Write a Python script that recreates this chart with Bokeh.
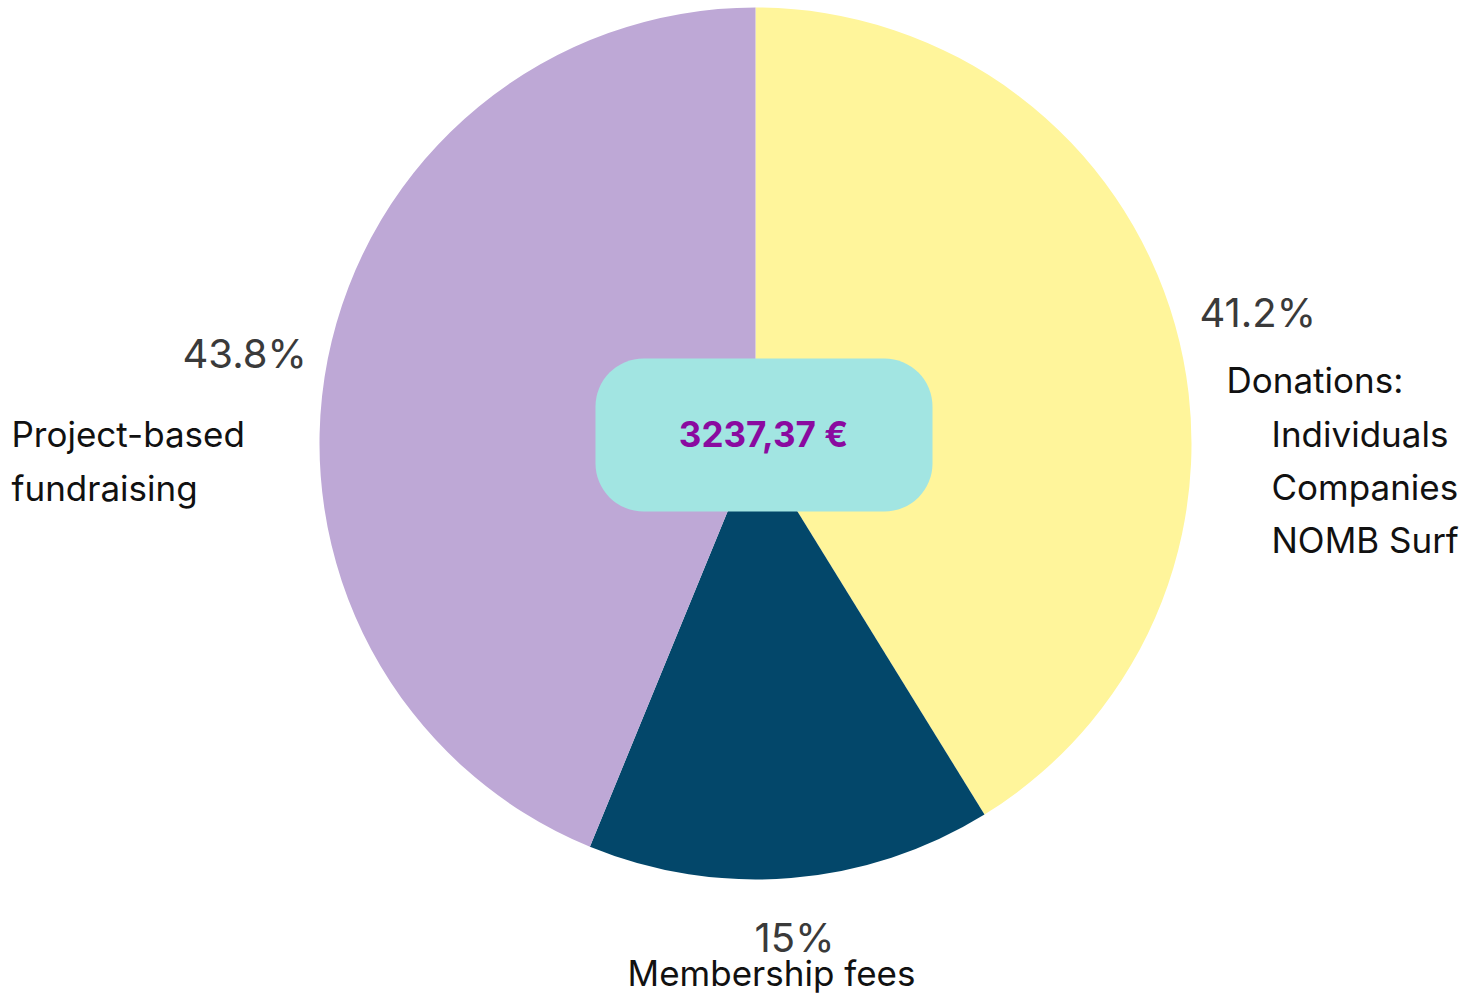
from bokeh.plotting import figure
from bokeh.models import ColumnDataSource, Range1d
from bokeh.core.properties import value
from bokeh.embed import file_html
from bokeh.resources import INLINE
import math

categories = ["Donations", "Membership fees", "Project-based fundraising"]
shares = [41.2, 15.0, 43.8]
pct_labels = ["41.2%", "15%", "43.8%"]
colors = ["#fff59b", "#03476a", "#bea8d6"]
total_label = "3237,37 €"

W, H = 1483, 995
FONT = "Inter"

def px(x):
    return x

def py(y):
    return H - y

p = figure(width=W, height=H, output_backend="svg", toolbar_location=None,
           x_range=Range1d(0, W), y_range=Range1d(0, H), min_border=0)
p.axis.visible = False
p.grid.visible = False
p.outline_line_color = None
p.background_fill_color = "white"

# wedges, clockwise from 12 o'clock
starts, ends = [], []
acc = 0.0
for s in shares:
    a0 = math.pi / 2 - acc / 100 * 2 * math.pi
    acc += s
    a1 = math.pi / 2 - acc / 100 * 2 * math.pi
    starts.append(a0)
    ends.append(a1)

src = ColumnDataSource(dict(cat=categories, start=starts, end=ends, color=colors))
p.wedge(x=px(755), y=py(443), radius=436, start_angle="start", end_angle="end",
        direction="clock", fill_color="color", line_color=None, source=src)

# center box
p.rect(x=px(763.5), y=py(434.5), width=337, height=153, fill_color="#a2e5e2",
       line_color=None, border_radius=48)
p.text(x=[px(763)], y=[py(433)], text=[total_label], text_font=value(FONT),
       text_font_size="35px", text_font_style="bold", text_color="#8a0aa0",
       text_align="center", text_baseline="middle")

pct_color = "#3a3a3a"
lab_color = "#111111"

# percentages
p.text(x=[px(1199), px(182)], y=[py(312), py(353)], text=[pct_labels[0], pct_labels[2]],
       text_font=value(FONT), text_font_size="40px", text_color=pct_color,
       text_align="left", text_baseline="middle")
p.text(x=[px(794)], y=[py(937)], text=[pct_labels[1]],
       text_font=value(FONT), text_font_size="40px", text_color=pct_color,
       text_align="center", text_baseline="middle")

# category labels
p.text(x=[px(1226)], y=[py(379)], text=["Donations:"], text_font=value(FONT),
       text_font_size="35px", text_color=lab_color, text_align="left", text_baseline="middle")
p.text(x=[px(1271)] * 3, y=[py(433), py(486), py(539)],
       text=["Individuals", "Companies", "NOMB Surf"], text_font=value(FONT),
       text_font_size="35px", text_color=lab_color, text_align="left", text_baseline="middle")
p.text(x=[px(11)] * 2, y=[py(433), py(487)], text=["Project-based", "fundraising"],
       text_font=value(FONT), text_font_size="35px", text_color=lab_color,
       text_align="left", text_baseline="middle")
p.text(x=[px(771)], y=[py(972)], text=["Membership fees"], text_font=value(FONT),
       text_font_size="35px", text_color=lab_color, text_align="center", text_baseline="middle")

open("out.html", "w").write(file_html(p, INLINE))
